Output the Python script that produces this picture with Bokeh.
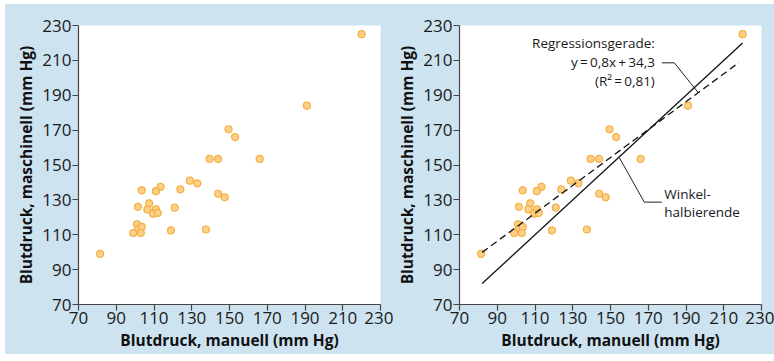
from bokeh.plotting import figure
from bokeh.layouts import row, column
from bokeh.models import Range1d, FixedTicker, ColumnDataSource, Label, Spacer
from bokeh.embed import file_html
from bokeh.resources import INLINE

# ---- data ----
manuell = [220, 191, 149.5, 153, 139.5, 144, 166, 129, 133, 124, 113.5, 111, 103.5,
           144, 147.5, 107.5, 101.5, 106.5, 111, 121, 109.5, 112, 101, 101.5, 103.5,
           99, 103, 119, 137.5, 81.5]
maschinell = [225, 184, 170.5, 166, 153.5, 153.5, 153.5, 141, 139.5, 136, 137.5, 135, 135.5,
              133.5, 131.5, 128, 126, 124.5, 124.5, 125.5, 122, 122.5, 116, 113, 114.5,
              111, 111, 112.5, 113, 99]
ticks = [70, 90, 110, 130, 150, 170, 190, 210, 230]
reg_slope = 0.8
reg_intercept = 34.3
reg_x = [82, 218]
diag_x = [82, 220]
reg_text = ["Regressionsgerade:", "y\u2009=\u20090,8x\u2009+\u200934,3", "(R\u00b2\u2009=\u20090,81)"]
reg_text_x = [173.5, 173.5, 173.5]
reg_text_y = [219.7, 208.8, 198.4]
win_text = ["Winkel-", "halbierende"]
win_text_x = [178.5, 178.5]
win_text_y = [133.1, 122.8]
reg_leader_x = [177.2, 183.8, 196.7]
reg_leader_y = [208.6, 208.6, 191.2]
win_leader_x = [154.7, 167.9, 177.2]
win_leader_y = [154.2, 128.7, 128.7]
panel_label_pos = (44.6, 48.2)

BG = "#cde3f0"
FONT = "Open Sans"
XLABEL = "Blutdruck, manuell (mm Hg)"
YLABEL = "Blutdruck, maschinell (mm Hg)"


def make_panel(width, left, right, letter):
    p = figure(width=width, height=350, output_backend="svg", toolbar_location=None,
               x_range=Range1d(70, 230), y_range=Range1d(70, 230),
               min_border_left=left, min_border_right=right,
               min_border_top=21, min_border_bottom=50)
    p.background_fill_color = "white"
    p.border_fill_color = BG
    p.outline_line_color = None
    p.grid.visible = False
    for ax in (p.xaxis[0], p.yaxis[0]):
        ax.ticker = FixedTicker(ticks=ticks)
        ax.axis_line_color = "#444444"
        ax.axis_line_width = 1.2
        ax.major_tick_line_color = "#444444"
        ax.major_tick_line_width = 1.2
        ax.major_tick_out = 6
        ax.major_tick_in = 0
        ax.minor_tick_line_color = None
        ax.major_label_text_font = FONT
        ax.major_label_text_font_size = "17px"
        ax.major_label_text_color = "#1a1a1a"
        ax.axis_label_text_font = FONT
        ax.axis_label_text_font_size = "15.5px"
        ax.axis_label_text_font_style = "bold"
        ax.axis_label_text_color = "#111111"
        ax.major_label_standoff = 1
        ax.axis_label_standoff = 2
    p.xaxis.axis_label = XLABEL
    p.yaxis.axis_label = YLABEL
    p.add_layout(Label(x=panel_label_pos[0], y=panel_label_pos[1], text=letter,
                       text_font=FONT, text_font_size="16px", text_font_style="bold",
                       text_color="#111111", text_align="center", text_baseline="middle"))
    return p


pa = make_panel(388, 73, 13, "a")
pb = make_panel(381, 65, 13, "b")

src = ColumnDataSource(data=dict(x=manuell, y=maschinell))
for p in (pa, pb):
    p.scatter("x", "y", source=src, size=7, fill_color="#fcd08a",
              line_color="#f3b03f", line_width=1.2)

# lines in panel b
reg_y = [reg_slope * v + reg_intercept for v in reg_x]
pb.line(reg_x, reg_y, line_color="#111111", line_width=1.3, line_dash="7 4")
pb.line(diag_x, diag_x, line_color="#111111", line_width=1.3)
pb.line(reg_leader_x, reg_leader_y, line_color="#222222", line_width=1)
pb.line(win_leader_x, win_leader_y, line_color="#222222", line_width=1)

pb.text(x=reg_text_x, y=reg_text_y, text=reg_text, text_align="right",
        text_baseline="middle", text_font_size="13.5px", text_color="#1a1a1a",
        text_font={"value": FONT})
pb.text(x=win_text_x, y=win_text_y, text=win_text, text_align="left",
        text_baseline="middle", text_font_size="13.5px", text_color="#1a1a1a",
        text_font={"value": FONT})

panels = row(pa, pb, spacing=0, styles={"background-color": BG})
layout = column(Spacer(height=4), row(Spacer(width=5), panels, spacing=0), spacing=0)
open("out.html", "w").write(file_html(layout, INLINE))
